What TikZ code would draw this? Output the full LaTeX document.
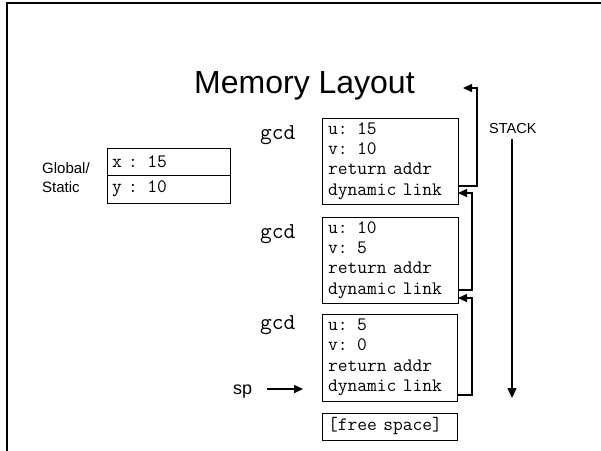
\documentclass[tikz,border=0pt]{standalone}
\usepackage{fontspec}
\setmainfont{Liberation Sans}
\usetikzlibrary{arrows.meta}
\begin{document}
\begin{tikzpicture}[x=1pt,y=-1pt,
  frame/.style={draw, line width=0.8pt, outer sep=0pt, anchor=north west,
    minimum width=136pt, minimum height=86pt, inner xsep=6pt, inner ysep=0pt,
    text width=124pt, align=left, font=\ttfamily\fontsize{19}{20.4}\selectfont},
  cell/.style={draw, line width=0.8pt, outer sep=0pt, anchor=north west,
    minimum width=123pt, minimum height=27pt, inner xsep=5pt, inner ysep=0pt,
    text width=113pt, align=left, font=\ttfamily\fontsize{19}{20}\selectfont},
  fname/.style={anchor=base west, inner sep=0pt, font=\ttfamily\fontsize{22.8}{24}\selectfont},
  label/.style={anchor=base west, inner sep=0pt, font=\fontsize{15}{18}\selectfont},
  link/.style={line width=1.5pt, -{Triangle[length=9pt,width=8pt]}},
]
\useasboundingbox (0,0) rectangle (601,450);
\fill[white] (0,0) rectangle (601,450);

% slide frame
\draw[line width=2.2pt] (7,452) -- (7,3) -- (603,3);

% title
\node[anchor=base west, inner sep=0pt, font=\fontsize{32}{36}\selectfont] (title) at (194,93) {Memory Layout};

% global / static area
\node[label] (glob) at (42,173) {Global/};
\node[label] (stat) at (42,192) {Static};
\node[cell] (gx) at (107,148) {x : 15};
\node[cell, minimum height=28pt] (gy) at (107,175) {y : 10};

% activation records
\node[fname] (n1) at (260,139) {gcd};
\node[frame] (f1) at (322,118) {u: 15\\v: 10\\return addr\\dynamic link};
\node[fname] (n2) at (260,238) {gcd};
\node[frame] (f2) at (322,217) {u: 10\\v: 5\\return addr\\dynamic link};
\node[fname] (n3) at (260,329) {gcd};
\node[frame, minimum width=135pt, text width=123pt, minimum height=87pt] (f3) at (322,314) {u: 5\\v: 0\\return addr\\dynamic link};
\node[frame, minimum width=135pt, text width=123pt, minimum height=27pt] (free) at (322,413) {[free space]};

% dynamic links
\coordinate (caller) at (463,88);
\draw[link] (f1.east |- 0,186) -- (477,186) -- (477,88) -- (caller);
\draw[link] (f2.east |- 0,290) -- (472,290) -- (472,193) -- (f1.east |- 0,193);
\draw[link] (f3.east |- 0,395) -- (472,395) -- (472,298) -- (f2.east |- 0,298);

% stack growth
\node[anchor=base west, inner sep=0pt, font=\fontsize{14.5}{17}\selectfont] (stack) at (489,133) {STACK};
\coordinate (stackend) at (512,398);
\draw[line width=1.5pt, -{Triangle[length=10pt,width=9pt]}] (512,139) -- (stackend);

% stack pointer
\node[anchor=base west, inner sep=0pt, font=\fontsize{18}{22}\selectfont] (sp) at (233,394) {sp};
\coordinate (sptip) at (303,389);
\draw[line width=1.5pt, -{Triangle[length=9pt,width=8pt]}] (267,389) -- (sptip);
\end{tikzpicture}
\end{document}
